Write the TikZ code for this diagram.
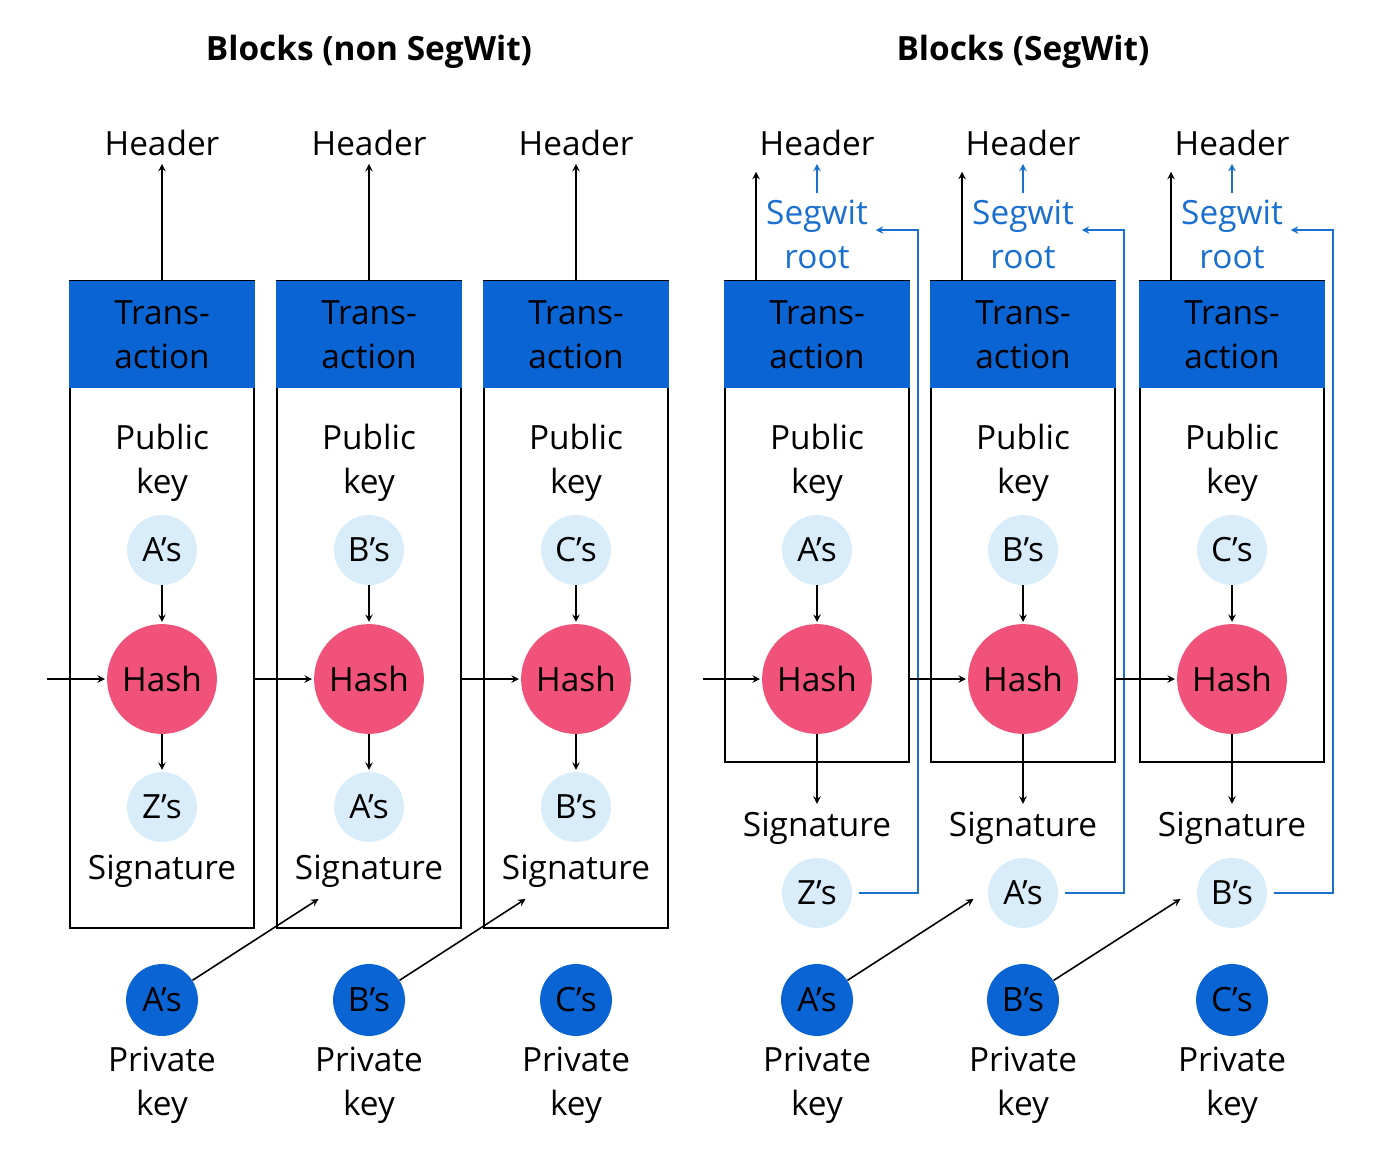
\documentclass[tikz,border=0pt]{standalone}
\usepackage{fontspec}
\setmainfont{Open Sans}
\usetikzlibrary{calc}
\definecolor{txblue}{HTML}{0A64D4}
\definecolor{hashpink}{HTML}{F0527A}
\definecolor{keylight}{HTML}{D8ECFA}
\definecolor{swblue}{HTML}{1A6FD0}
\tikzset{
  lbl/.style={font=\fontsize{19}{25}\selectfont, align=center},
  keyc/.style={circle, fill=keylight, minimum size=70pt*0.02/0.0352, inner sep=0pt, lbl},
  privc/.style={circle, fill=txblue, minimum size=72pt*0.02/0.0352, inner sep=0pt, lbl},
  hashc/.style={circle, fill=hashpink, minimum size=110pt*0.02/0.0352, inner sep=0pt, lbl},
  arr/.style={->, >=stealth, line width=0.9pt, shorten >=1pt},
}
\begin{document}
\begin{tikzpicture}[x=0.02cm,y=-0.02cm]
\useasboundingbox (0,0) rectangle (1400,1157);
% titles
\node[lbl, font=\fontsize{19}{25}\selectfont\bfseries] (t1) at (369,52) {Blocks (non SegWit)};
\node[lbl, font=\fontsize{19}{25}\selectfont\bfseries] (t2) at (1023,52) {Blocks (SegWit)};
% ---------- non SegWit blocks
\foreach \i/\cx/\pub/\sig in {1/162/A/Z, 2/369/B/A, 3/576/C/B} {
  \draw[line width=1pt] (\cx-92,281) rectangle (\cx+92,928);
  \fill[txblue] (\cx-93,281) rectangle (\cx+93,388);
  \node[lbl] (tx\i) at (\cx,335) {Trans-\\action};
  \node[lbl] (hd\i) at (\cx,143) {Header};
  \coordinate (top\i) at (\cx,281);
  \draw[arr] (top\i) -- (hd\i.south);
  \node[lbl] (pk\i) at (\cx,463) {Public\\key};
  \node[keyc] (pub\i) at (\cx,550) {\pub's};
  \node[hashc] (h\i) at (\cx,679) {Hash};
  \node[keyc] (sig\i) at (\cx,807) {\sig's};
  \node[lbl] (sl\i) at (\cx,871) {Signature};
  \node[privc] (pr\i) at (\cx,1000) {\pub's};
  \node[lbl] (pl\i) at (\cx,1085) {Private\\key};
  \draw[arr] (pub\i) -- (h\i);
  \draw[arr] (h\i) -- (sig\i);
}
\coordinate (in1) at (47,679);
\coordinate (in2) at (254,679);
\coordinate (in3) at (461,679);
\foreach \i in {1,2,3} \draw[arr] (in\i) -- (h\i.west);
\coordinate (d2) at (320,898);
\coordinate (d3) at (527,898);
\draw[arr] (pr1) -- (d2);
\draw[arr] (pr2) -- (d3);
% ---------- SegWit blocks
\foreach \i/\cx/\pub/\sig in {4/817/A/Z, 5/1023/B/A, 6/1232/C/B} {
  \draw[line width=1pt] (\cx-92,281) rectangle (\cx+92,762);
  \fill[txblue] (\cx-93,281) rectangle (\cx+93,388);
  \node[lbl] (tx\i) at (\cx,335) {Trans-\\action};
  \node[lbl] (hd\i) at (\cx,143) {Header};
  \coordinate (top\i) at (\cx-61,281);
  \coordinate (tip\i) at (\cx-61,170);
  \draw[arr] (top\i) -- (tip\i);
  \node[lbl, text=swblue] (sw\i) at (\cx,234) {Segwit\\root};
  \draw[arr, swblue] (sw\i.north) -- (hd\i.south);
  \node[lbl] (pk\i) at (\cx,463) {Public\\key};
  \node[keyc] (pub\i) at (\cx,550) {\pub's};
  \node[hashc] (h\i) at (\cx,679) {Hash};
  \node[lbl] (sl\i) at (\cx,828) {Signature};
  \node[keyc] (sig\i) at (\cx,893) {\sig's};
  \node[privc] (pr\i) at (\cx,1000) {\pub's};
  \node[lbl] (pl\i) at (\cx,1085) {Private\\key};
  \draw[arr] (pub\i) -- (h\i);
  \draw[arr] (h\i) -- (sl\i.north);
  \coordinate (sr\i) at (\cx+42,893);
  \coordinate (up\i) at (\cx+101,230);
  \draw[arr, swblue] (sr\i) -| (up\i) -- (sw\i.east |- up\i);
}
\coordinate (in4) at (703,679);
\coordinate (in5) at (908,679);
\coordinate (in6) at (1115,679);
\foreach \i in {4,5,6} \draw[arr] (in\i) -- (h\i.west);
\coordinate (d5) at (975,898);
\coordinate (d6) at (1182,898);
\draw[arr] (pr4) -- (d5);
\draw[arr] (pr5) -- (d6);
\end{tikzpicture}
\end{document}
